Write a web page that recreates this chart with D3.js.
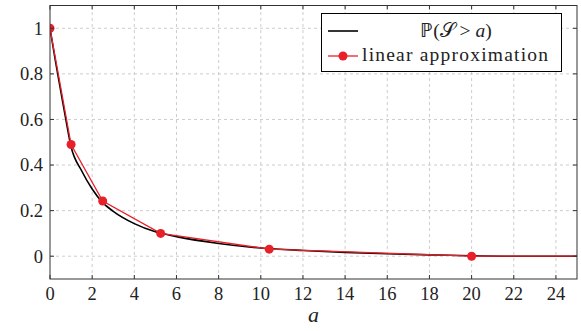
<!DOCTYPE html>
<html>
<head>
<meta charset="utf-8">
<script src="https://cdn.jsdelivr.net/npm/d3@7"></script>
</head>
<body style="margin:0">
<script>
// black curve: P(S > a)
const tailA = [0, 0.25, 0.5, 0.75, 1, 1.5, 2, 2.5, 3, 4, 5, 6, 8, 10, 12, 14, 16, 18, 20, 22, 25];
const tailP = [1, 0.86, 0.73, 0.6, 0.48, 0.375, 0.295, 0.235, 0.197, 0.143, 0.107, 0.086, 0.056, 0.036, 0.025, 0.017, 0.011, 0.006, 0.002, 0, 0];

// red linear approximation
const approxA = [0, 1, 2.5, 5.25, 10.4, 20, 25];
const approxP = [1, 0.49, 0.242, 0.1, 0.031, 0, 0];
const markerA = [0, 1, 2.5, 5.25, 10.4, 20];

const xTicks = d3.range(0, 25, 2);
const yTicks = [0, 0.2, 0.4, 0.6, 0.8, 1];

const W = 581, H = 331;
const m = { left: 50, right: 4, top: 5.5, bottom: 52 };
const red = "#e8202a";
const serif = "Liberation Serif";
const fs = 18.5;

const svg = d3.select("body").append("svg").attr("width", W).attr("height", H);

const x = d3.scaleLinear().domain([0, 25]).range([m.left, W - m.right]);
const y = d3.scaleLinear().domain([-0.1, 1.1]).range([H - m.bottom, m.top]);

svg.append("clipPath").attr("id", "clip")
  .append("rect")
  .attr("x", x(0)).attr("y", y(1.1))
  .attr("width", x(25) - x(0)).attr("height", y(-0.1) - y(1.1));

// grid
const grid = svg.append("g").attr("stroke", "#c0c0c0").attr("stroke-dasharray", "3,3").attr("stroke-width", 0.8);
grid.selectAll(".gx").data(xTicks.filter(d => d > 0)).enter().append("line")
  .attr("x1", d => x(d)).attr("x2", d => x(d))
  .attr("y1", y(-0.1)).attr("y2", y(1.1));
grid.selectAll(".gy").data(yTicks).enter().append("line")
  .attr("x1", x(0)).attr("x2", x(25))
  .attr("y1", d => y(d)).attr("y2", d => y(d));

// curves
const plot = svg.append("g").attr("clip-path", "url(#clip)");
const tail = tailA.map((a, i) => [a, tailP[i]]);
const approx = approxA.map((a, i) => [a, approxP[i]]);

plot.append("path").datum(tail)
  .attr("fill", "none").attr("stroke", "#000").attr("stroke-width", 1.6)
  .attr("d", d3.line().x(d => x(d[0])).y(d => y(d[1])).curve(d3.curveMonotoneX));

plot.append("path").datum(approx)
  .attr("fill", "none").attr("stroke", red).attr("stroke-width", 1.3)
  .attr("d", d3.line().x(d => x(d[0])).y(d => y(d[1])));

plot.selectAll(".mk").data(markerA).enter().append("circle")
  .attr("cx", d => x(d)).attr("cy", d => y(approxP[approxA.indexOf(d)]))
  .attr("r", 4.5).attr("fill", red);

// frame and ticks (inward on all four sides)
const axes = svg.append("g").attr("stroke", "#333").attr("stroke-width", 1);
axes.append("rect")
  .attr("x", x(0)).attr("y", y(1.1))
  .attr("width", x(25) - x(0)).attr("height", y(-0.1) - y(1.1))
  .attr("fill", "none");
const tk = 4;
xTicks.forEach(d => {
  axes.append("line").attr("x1", x(d)).attr("x2", x(d)).attr("y1", y(-0.1)).attr("y2", y(-0.1) - tk);
  axes.append("line").attr("x1", x(d)).attr("x2", x(d)).attr("y1", y(1.1)).attr("y2", y(1.1) + tk);
});
yTicks.forEach(d => {
  axes.append("line").attr("x1", x(0)).attr("x2", x(0) + tk).attr("y1", y(d)).attr("y2", y(d));
  axes.append("line").attr("x1", x(25)).attr("x2", x(25) - tk).attr("y1", y(d)).attr("y2", y(d));
});

// tick labels
xTicks.forEach(d => {
  svg.append("text").attr("x", x(d)).attr("y", y(-0.1) + 21)
    .attr("font-family", serif).attr("font-size", fs).attr("fill", "#222")
    .attr("text-anchor", "middle")
    .text(d);
});
yTicks.forEach(d => {
  svg.append("text").attr("x", x(0) - 7).attr("y", y(d) + 6.3)
    .attr("font-family", serif).attr("font-size", fs).attr("fill", "#222")
    .attr("text-anchor", "end")
    .text(d);
});

svg.append("text")
  .attr("x", (x(0) + x(25)) / 2).attr("y", y(-0.1) + 43)
  .attr("font-family", serif).attr("font-size", 22).attr("fill", "#222")
  .attr("text-anchor", "middle").attr("font-style", "italic")
  .text("a");

// legend
svg.append("rect").attr("x", 321.5).attr("y", 13.5).attr("width", 240).attr("height", 58)
  .attr("fill", "#fff").attr("stroke", "#000").attr("stroke-width", 1);
svg.append("line").attr("x1", 328).attr("x2", 358).attr("y1", 31).attr("y2", 31)
  .attr("stroke", "#000").attr("stroke-width", 1.6);
svg.append("line").attr("x1", 328).attr("x2", 358).attr("y1", 56).attr("y2", 56)
  .attr("stroke", red).attr("stroke-width", 1.3);
svg.append("circle").attr("cx", 343).attr("cy", 56).attr("r", 4.5).attr("fill", red);

const t1 = svg.append("text").attr("x", 456).attr("y", 37)
  .attr("font-family", serif).attr("font-size", 19.5).attr("fill", "#222")
  .attr("text-anchor", "middle");
t1.append("tspan").text("ℙ(𝒮 > ");
t1.append("tspan").attr("font-style", "italic").text("a");
t1.append("tspan").text(")");
svg.append("text").attr("x", 362).attr("y", 61)
  .attr("font-family", serif).attr("font-size", 19.5).attr("fill", "#222")
  .attr("textLength", 186).attr("lengthAdjust", "spacing")
  .text("linear approximation");

// measuring forces the font lookup before the page is photographed
svg.selectAll("text").each(function() { this.getComputedTextLength(); });
</script>
</body>
</html>
